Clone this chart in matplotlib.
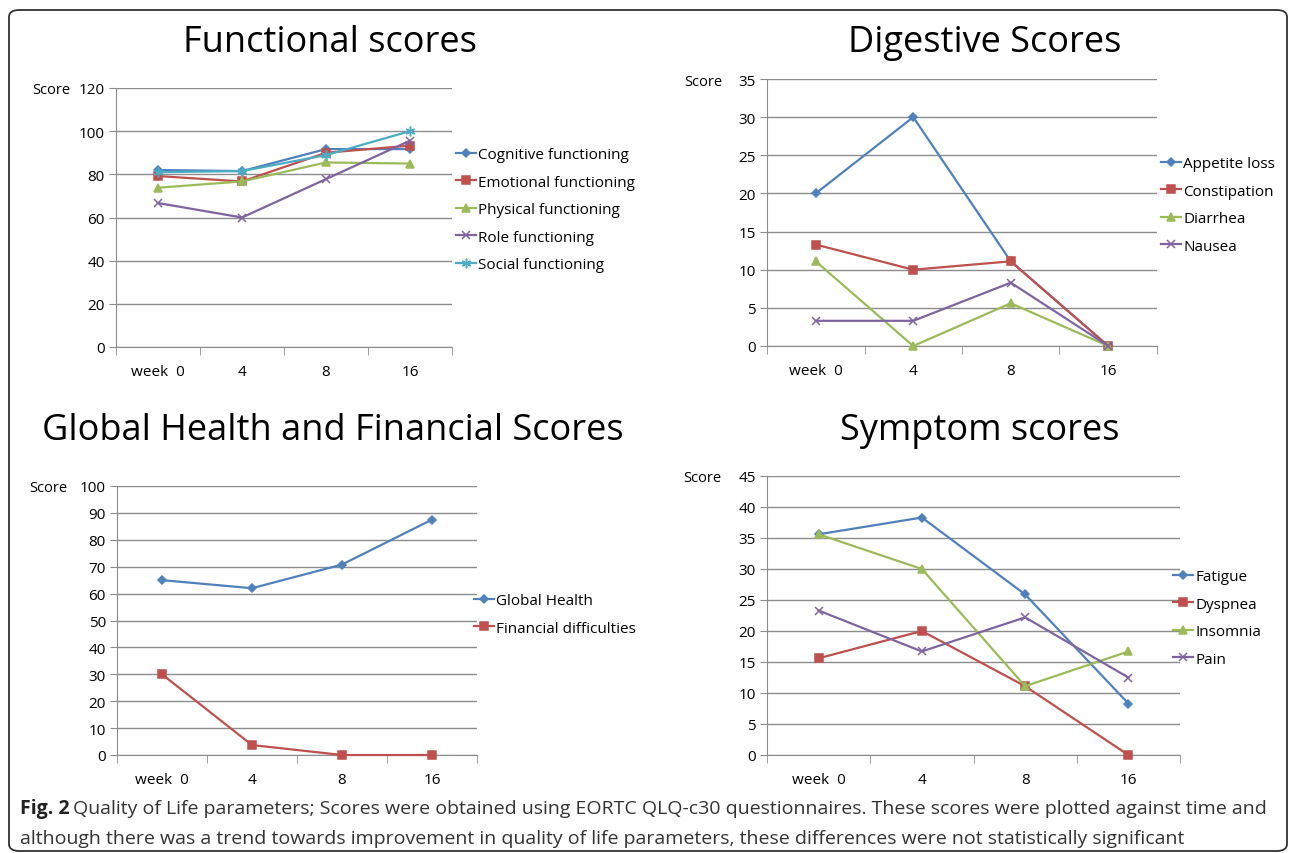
import numpy as np
import matplotlib
matplotlib.use("Agg")
import matplotlib.pyplot as plt
from matplotlib.patches import FancyBboxPatch

plt.rcParams['font.family'] = ['Open Sans', 'DejaVu Sans']

weeks = ["week  0", "4", "8", "16"]

# functional scores
func_names = ["Cognitive functioning", "Emotional functioning", "Physical functioning",
              "Role functioning", "Social functioning"]
cognitive = [82.0, 81.5, 91.7, 91.7]
emotional = [79.2, 76.7, 90.0, 93.3]
physical = [73.8, 76.7, 85.5, 85.0]
role = [66.7, 60.0, 77.8, 95.6]
social = [81.0, 81.5, 88.9, 100.0]

# digestive scores
dig_names = ["Appetite loss", "Constipation", "Diarrhea", "Nausea"]
appetite = [20.0, 30.0, 11.1, 0.0]
constipation = [13.3, 10.0, 11.1, 0.0]
diarrhea = [11.1, 0.0, 5.6, 0.0]
nausea = [3.3, 3.3, 8.3, 0.0]

# global health / financial
glob_names = ["Global Health", "Financial difficulties"]
global_health = [65.0, 62.0, 70.8, 87.5]
financial = [30.0, 3.7, 0.0, 0.0]

# symptom scores
sym_names = ["Fatigue", "Dyspnea", "Insomnia", "Pain"]
fatigue = [35.6, 38.3, 25.9, 8.3]
dyspnea = [15.6, 20.0, 11.1, 0.0]
insomnia = [35.6, 30.0, 11.1, 16.7]
pain = [23.3, 16.7, 22.2, 12.5]

colors = ["#4F81BD", "#C0504D", "#9BBB59", "#8064A2", "#4BACC6"]
markers = ["D", "s", "^", "x", (6, 2, 0)]
msizes = [4.5, 6, 6, 6, 7]

W, H = 1292, 854
fig = plt.figure(figsize=(W / 100, H / 100), dpi=100)


def rect(x0, y0, x1, y1):
    return [x0 / W, 1 - y1 / H, (x1 - x0) / W, (y1 - y0) / H]


def panel(box, title, title_xy, series, names, ymax, ystep, leg_xy, score_x):
    ax = fig.add_axes(rect(*box))
    x = np.arange(len(weeks))
    for i, (vals, name) in enumerate(zip(series, names)):
        ax.plot(x, vals, color=colors[i], marker=markers[i], ms=msizes[i],
                mew=1.1, lw=1.6, label=name, clip_on=False, zorder=3)
    ax.set_xlim(-0.5, len(weeks) - 0.5)
    ax.set_ylim(0, ymax)
    ax.set_yticks(np.arange(0, ymax + 1, ystep))
    ax.yaxis.grid(True, color="#8c8c8c", lw=1)
    ax.set_axisbelow(True)
    ax.set_xticks(x)
    ax.set_xticklabels(weeks)
    ax.set_xticks(np.arange(-0.5, len(weeks)), minor=True)
    ax.tick_params(axis="x", which="major", length=0, pad=12, labelsize=11)
    ax.tick_params(axis="x", which="minor", length=6, color="#8c8c8c", direction="out")
    ax.tick_params(axis="y", length=5, color="#8c8c8c", labelsize=11, pad=3)
    for s in ["top", "right"]:
        ax.spines[s].set_visible(False)
    for s in ["left", "bottom"]:
        ax.spines[s].set_color("#8c8c8c")
    fig.text(score_x / W, 1 - (box[1] + 2) / H, "Score", ha="right", va="center",
             fontsize=10.5)
    fig.text(title_xy[0] / W, 1 - title_xy[1] / H, title, ha="center", va="center",
             fontsize=26)
    ax.legend(loc="upper left", bbox_to_anchor=(leg_xy[0] / W, 1 - leg_xy[1] / H),
              bbox_transform=fig.transFigure, frameon=False, fontsize=11,
              handlelength=1.3, handletextpad=0.15, labelspacing=0.82,
              borderaxespad=0, borderpad=0)
    return ax


panel((116, 89, 452, 348), "Functional scores", (330, 43),
      [cognitive, emotional, physical, role, social], func_names, 120, 20, (456, 148), 70)
panel((767, 80, 1157, 347), "Digestive Scores", (985, 43),
      [appetite, constipation, diarrhea, nausea], dig_names, 35, 5, (1161, 157), 722)
panel((117, 487, 477, 756), "Global Health and Financial Scores", (333, 431),
      [global_health, financial], glob_names, 100, 10, (474, 594), 67)
panel((767, 477, 1180, 756), "Symptom scores", (980, 431),
      [fatigue, dyspnea, insomnia, pain], sym_names, 45, 5, (1173, 570), 721)

# caption
cap_font = ['Open Sans', 'DejaVu Sans']
fig.text(20 / W, 1 - 809 / H, "Fig. 2", fontsize=14, fontweight="bold",
         va="center", family=cap_font, color="#222222")
fig.text(73 / W, 1 - 809 / H,
         "Quality of Life parameters; Scores were obtained using EORTC QLQ-c30 questionnaires. "
         "These scores were plotted against time and",
         fontsize=14, va="center", family=cap_font, color="#333333")
fig.text(20 / W, 1 - 839 / H,
         "although there was a trend towards improvement in quality of life parameters, "
         "these differences were not statistically significant",
         fontsize=14, va="center", family=cap_font, color="#333333")

border = FancyBboxPatch((9 / W, 1 - 852 / H), (1287 - 9) / W, (852 - 11) / H,
                        boxstyle="round,pad=0,rounding_size=0.008",
                        transform=fig.transFigure, fill=False, ec="#333333", lw=1.3)
fig.patches.append(border)

fig.savefig("out.png", dpi=100)
